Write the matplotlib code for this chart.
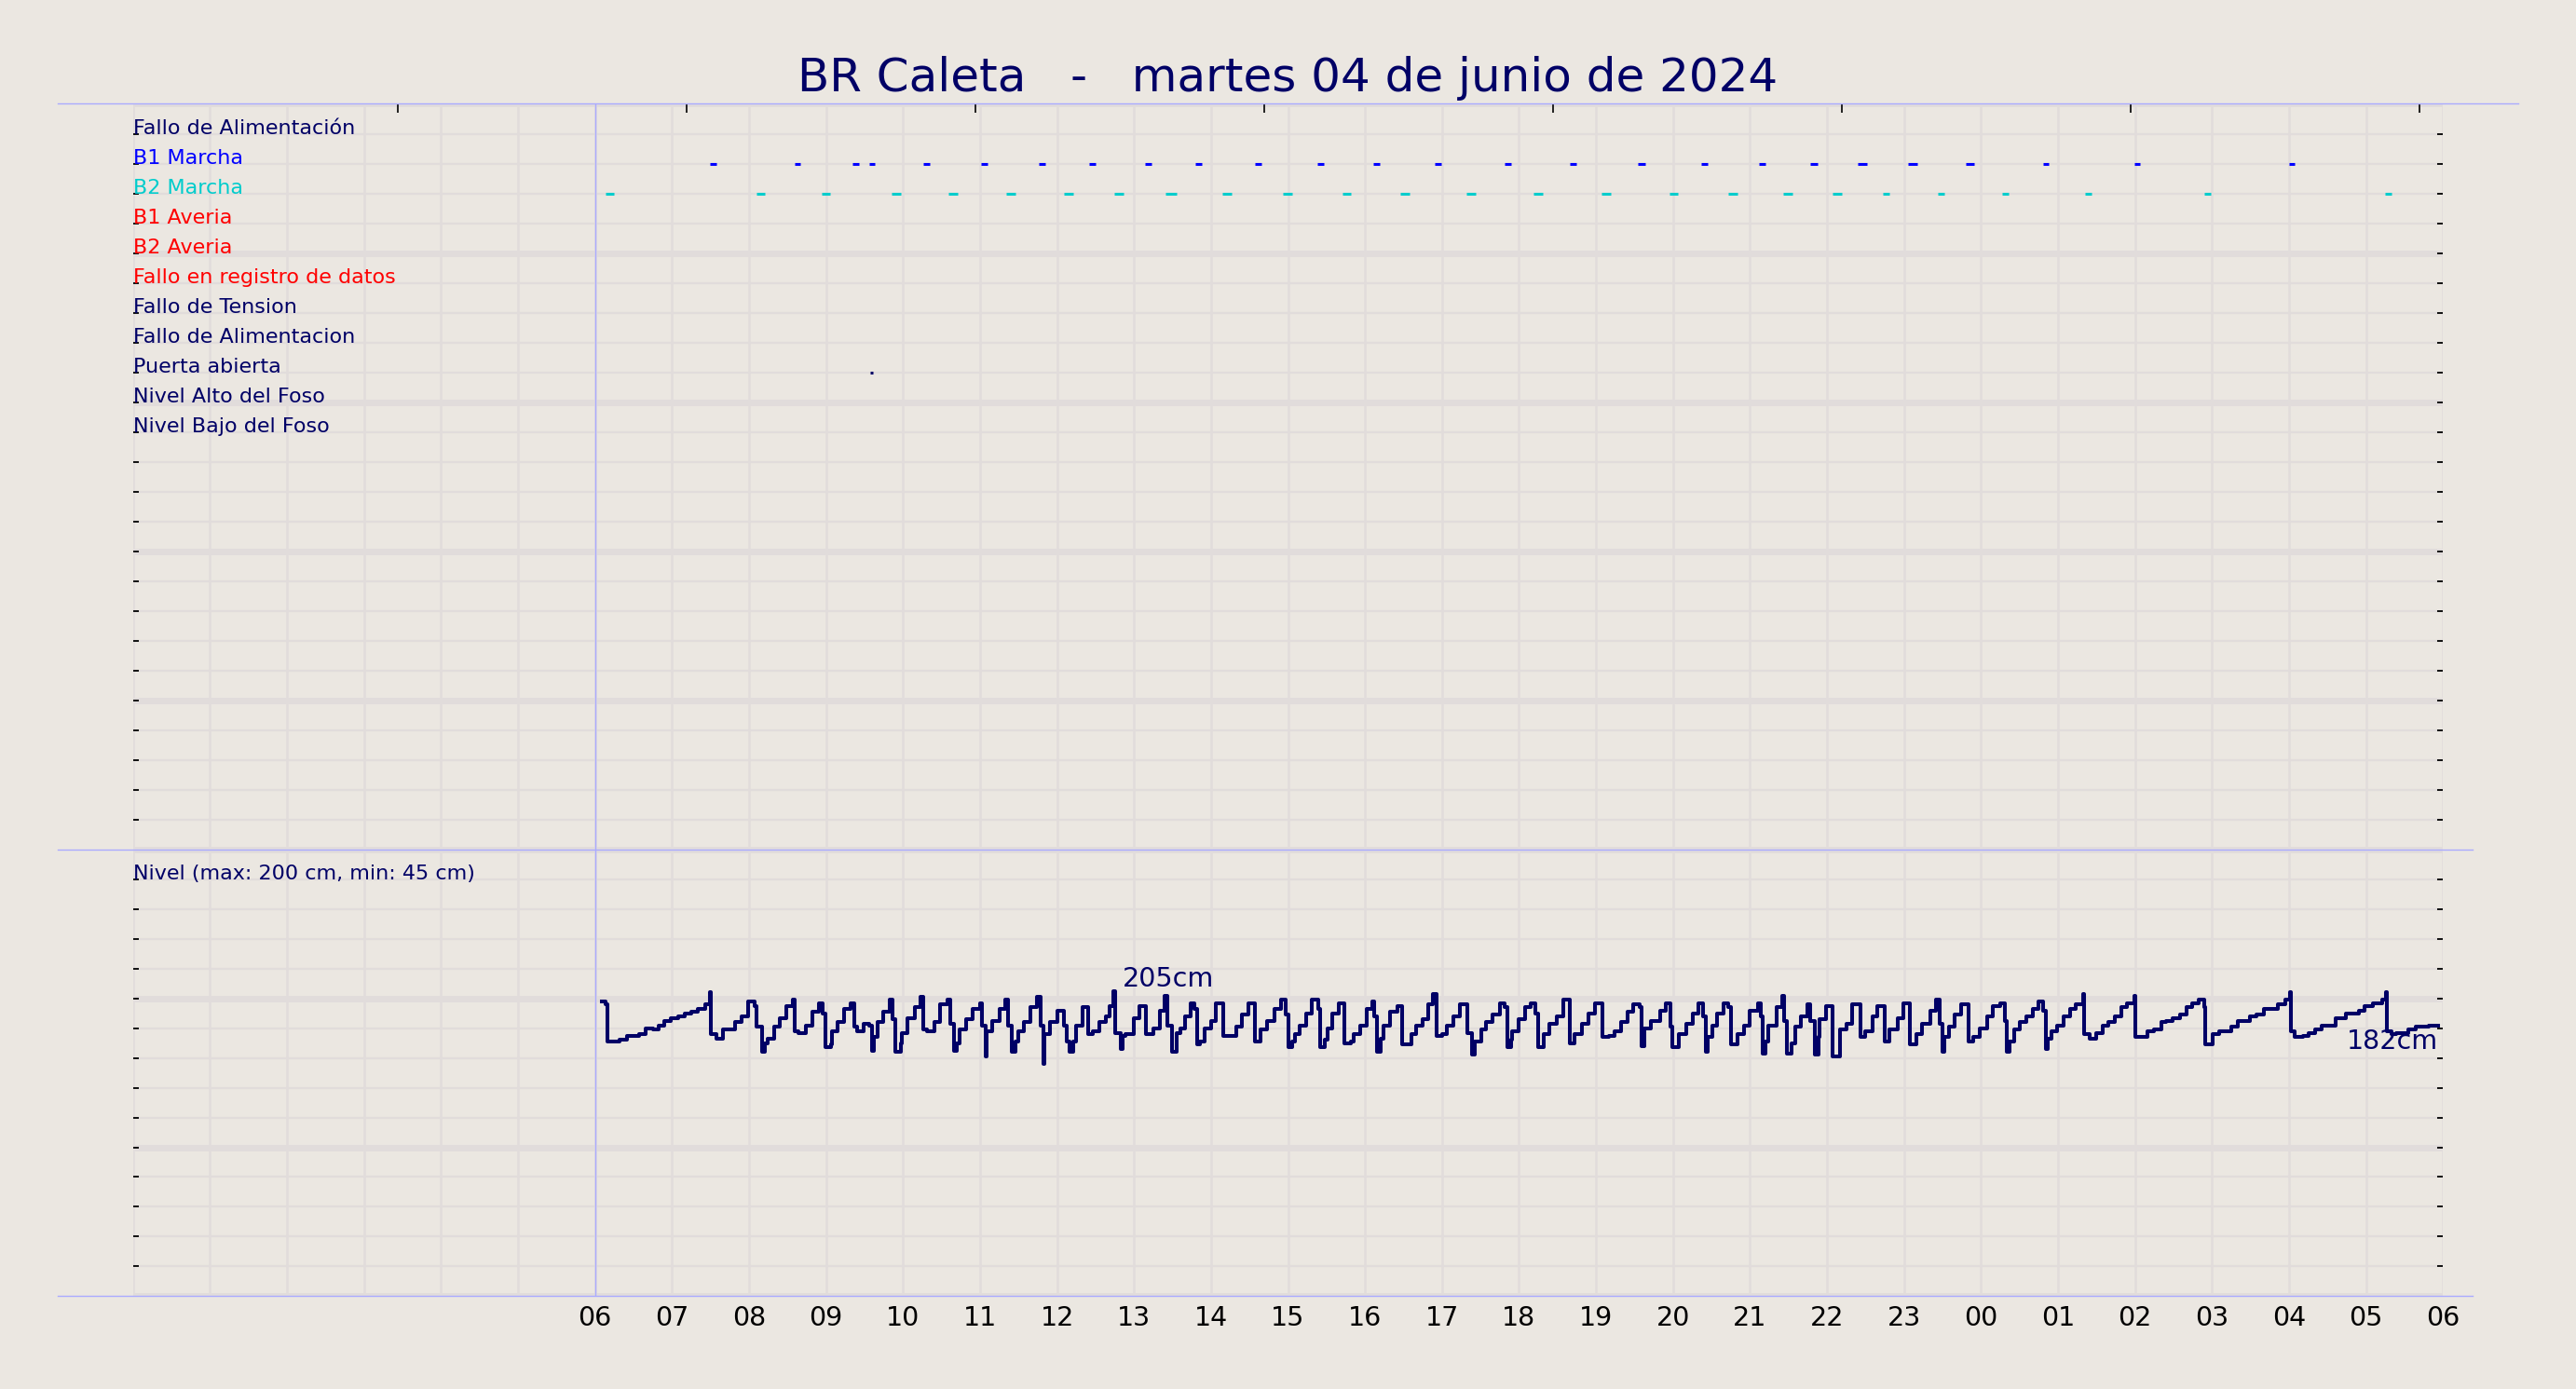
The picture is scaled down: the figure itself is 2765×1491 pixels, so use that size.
import matplotlib
matplotlib.use("Agg")
import matplotlib.pyplot as plt
from matplotlib.lines import Line2D

title = "BR Caleta   -   martes 04 de junio de 2024"

# event rows of the upper panel (top to bottom)
row_labels = ["Fallo de Alimentación", "B1 Marcha", "B2 Marcha", "B1 Averia", "B2 Averia",
              "Fallo en registro de datos", "Fallo de Tension", "Fallo de Alimentacion",
              "Puerta abierta", "Nivel Alto del Foso", "Nivel Bajo del Foso"]
row_colors = ["#000066", "#0000ff", "#00cccc", "#ff0000", "#ff0000",
              "#ff0000", "#000066", "#000066", "#000066", "#000066", "#000066"]

# pump runs: centre (hours from 00:00 of 04/06) and duration in minutes
b1_hours = [7.53, 8.63, 9.39, 9.60, 10.30, 11.06, 11.81, 12.46, 13.19, 13.84, 14.61, 15.42,
            16.15, 16.95, 17.85, 18.70, 19.59, 20.41, 21.16, 21.83, 22.46, 23.11, 23.86,
            24.84, 26.03, 28.04]
b1_mins = [5, 5, 5, 4, 5, 5, 5, 5, 5, 5, 5, 5, 5, 5, 5, 5, 5.5, 5.5, 5.5, 5.5, 7, 7, 6.5,
           4.5, 4.5, 4.5]
b2_hours = [6.19, 8.15, 9.00, 9.91, 10.65, 11.40, 12.15, 12.80, 13.48, 14.21, 14.99, 15.76,
            16.52, 17.38, 18.25, 19.13, 20.01, 20.78, 21.49, 22.13, 22.77, 23.48, 24.32,
            25.39, 26.94, 29.29]
b2_mins = [7, 7, 7, 7, 7, 7, 7, 7, 9, 7, 7, 7, 7, 7, 7, 7, 7, 7, 7, 7, 5, 5, 5, 5, 5, 5]
door_hours = [9.59]
door_mins = [2]

# level readings: minutes after 06:00 and level in cm (step data)
level_min = [
    5.3, 8.2, 9.4, 14.2, 19.1, 24.6, 34.3, 39.6, 45.0, 49.8, 54.2, 59.0, 65.1, 69.9, 74.7,
    80.3, 85.6, 89.7, 90.5, 94.8, 99.7, 109.3, 114.2, 119.5, 124.3, 125.8, 130.1, 132.6,
    134.5, 139.3, 144.2, 149.0, 153.9, 155.3, 158.7, 164.3, 169.1, 174.2, 177.6, 179.5,
    183.6, 184.8, 189.2, 194.0, 198.9, 201.8, 204.2, 209.0, 213.9, 215.8, 217.5, 219.9,
    224.8, 229.6, 232.0, 233.7, 238.1, 239.3, 243.4, 249.0, 253.8, 255.5, 258.7, 264.2,
    269.1, 274.4, 276.8, 279.7, 282.1, 284.1, 288.9, 294.2, 299.8, 301.5, 304.6, 305.4,
    309.5, 315.0, 319.9, 321.6, 324.7, 327.6, 329.6, 334.4, 339.2, 344.1, 347.0, 349.4,
    350.1, 354.7,
    360.3, 365.6, 367.6, 370.0, 372.4, 374.8, 379.7, 384.5, 388.1, 393.0, 397.8, 400.7,
    404.1, 405.5, 409.9, 411.1, 413.5, 419.6, 424.4, 429.3, 435.3, 440.2, 443.8, 446.2,
    449.8, 453.5, 455.9, 460.0, 464.4, 466.8, 469.2, 471.6, 475.2, 480.1, 483.7, 489.8,
    499.4, 504.3, 509.1, 514.0, 518.8, 523.6, 529.7, 534.5, 538.2, 540.6, 543.0, 545.4,
    549.1, 553.9, 558.7, 563.6, 564.8, 568.4, 570.8, 574.5, 579.3, 584.1, 589.0, 591.4,
    596.2, 601.1, 605.4, 607.1, 609.6, 612.0, 614.4, 619.2, 625.3, 628.9, 636.2, 639.8,
    644.6, 649.5, 653.1, 655.5, 660.4, 664.0, 668.8, 673.7, 679.7, 683.4, 685.8, 690.6,
    694.3, 699.1, 705.1, 708.8, 711.2, 713.6,
    714.8, 719.7, 724.5, 729.3, 733.0, 734.7, 739.0, 743.9, 749.2, 754.8, 759.6, 763.2,
    769.3, 774.1, 779.0, 785.0, 789.8, 794.7, 799.5, 804.4, 809.2, 814.0, 815.3, 817.7,
    822.5, 829.8, 834.6, 838.2, 839.5, 844.3, 850.3, 855.2, 860.0, 863.7, 865.3, 867.3,
    870.9, 874.5, 879.4, 883.0, 885.4, 890.3, 895.1, 899.9, 906.0, 908.4, 909.6, 912.1,
    914.5, 920.5, 924.9, 926.6, 929.0, 932.6, 935.0, 939.9, 944.7, 947.1, 950.8, 953.2,
    954.4, 959.2, 964.6, 970.1, 975.0, 979.8, 985.9, 989.5, 995.5, 999.2, 1005.2, 1008.9,
    1014.9, 1019.7, 1024.6, 1029.4, 1034.3, 1040.3, 1045.2, 1047.6, 1050.0, 1051.2,
    1054.8, 1059.7, 1064.5, 1070.6, 1074.2,
    1079.0, 1085.1, 1089.4, 1094.8, 1098.4, 1100.3, 1102.0, 1105.7, 1110.5, 1115.3,
    1120.2, 1125.0, 1128.6, 1130.6, 1132.3, 1134.7, 1139.5, 1144.4, 1149.2, 1154.1,
    1159.9, 1160.6, 1165.0, 1169.8, 1174.6, 1179.5, 1184.3, 1189.1, 1194.0, 1199.8,
    1200.5, 1209.7, 1214.6, 1220.6, 1224.2, 1229.1, 1235.1, 1240.0, 1244.8, 1249.6,
    1254.0, 1255.0, 1260.5, 1265.4, 1275.0, 1279.9, 1289.6, 1294.4, 1300.5, 1311.4,
    1317.4, 1320.5, 1321.8, 1324.7, 1330.7, 1335.6, 1340.4, 1345.2, 1356.1, 1364.6,
    1374.3, 1379.1, 1385.2, 1392.4, 1395.6, 1396.5, 1399.7, 1403.3, 1413.0, 1419.0,
    1428.7, 1436.0]
level_cm = [
    198, 196, 171, 171, 172, 175, 176, 180, 179, 182, 185, 187, 188, 190, 191,
    193, 196, 204, 176, 173, 179, 184, 188, 198, 195, 181, 164, 170,
    173, 181, 187, 195, 199, 178, 177, 182, 191, 197, 190, 167,
    169, 178, 184, 193, 197, 181, 178, 183, 182, 165, 174, 184,
    191, 199, 186, 164, 170, 177, 187, 194, 201, 179, 178, 184,
    196, 199, 183, 165, 170, 179, 186, 193, 197, 182, 161, 178,
    185, 193, 199, 182, 164, 171, 178, 184, 194, 201, 182, 156,
    176, 184,
    192, 182, 171, 164, 171, 182, 194, 176, 178, 184, 188, 195,
    205, 177, 166, 175, 176, 187, 195, 176, 180, 192, 202, 182,
    164, 177, 180, 188, 197, 193, 169, 171, 180, 185, 197, 175,
    181, 189, 197, 171, 179, 185, 193, 199, 189, 167, 171, 176,
    182, 190, 199, 193, 167, 172, 180, 190, 197, 170, 171, 176,
    182, 193, 198, 188, 164, 173, 182, 191, 195, 169, 176, 182,
    186, 196, 203, 175, 176, 182, 188, 196, 177, 162, 171, 179,
    184, 189, 197, 194, 167, 172,
    178, 186, 194, 197, 190, 167, 176, 183, 188, 199, 170, 176,
    183, 190, 197, 174, 175, 178, 184, 191, 196, 194, 168, 180,
    185, 192, 197, 181, 167, 176, 183, 190, 197, 188, 164, 174,
    182, 190, 197, 194, 169, 176, 182, 192, 197, 188, 163, 171,
    182, 194, 202, 185, 163, 170, 181, 188, 196, 185, 162, 174,
    186, 195, 161, 179, 183, 196, 174, 178, 188, 195, 171, 179,
    187, 197, 169, 176, 183, 192, 199, 183, 164, 174,
    181, 189, 196, 171, 174,
    180, 188, 195, 197, 185, 164, 171, 179, 184, 188,
    193, 198, 192, 166, 173, 178, 182, 188, 193, 196,
    203, 176, 173, 177, 182, 184, 188, 194, 197, 202,
    174, 178, 179, 184, 185, 187, 189, 194, 197, 199,
    194, 169, 176, 178, 181, 185, 188, 189, 193, 196,
    199, 204, 178, 174, 175, 177, 179, 182, 187, 190,
    192, 195, 197, 199, 204, 178, 176, 177, 179, 181,
    182, 182]

hour_labels = ["%02d" % (h % 24) for h in range(6, 31)]

bg = "#ebe7e1"
grid = "#e1dcdb"
lav = "#aaaaff"
navy = "#000066"

fig = plt.figure(figsize=(27.65, 14.91), dpi=100, facecolor=bg)
L, W = 0.05165, 0.89671
ax1 = fig.add_axes([L, 0.38833, W, 0.53689])
ax2 = fig.add_axes([L, 0.06687, W, 0.32146])

for ax in (ax1, ax2):
    ax.set_facecolor(bg)
    for s in ax.spines.values():
        s.set_visible(False)
    ax.set_xlim(0, 30)
    for h in range(31):
        ax.axvline(h, color=grid, lw=1.8, zorder=0)
    ax.axvline(6, color=lav, lw=1.0, zorder=1)
    ax.tick_params(axis="y", direction="in", length=4, width=1.3, color="black",
                   left=True, right=True, labelleft=False)

# upper panel: events
ax1.set_ylim(0, 25)
for y in range(26):
    ax1.axhline(y, color=grid, lw=5 if y % 5 == 0 else 1.7, zorder=0)
ax1.set_yticks(range(1, 25))
ax1.set_xticks([3.44, 7.19, 10.94, 14.69, 18.44, 22.19, 25.94, 29.69])
ax1.tick_params(axis="x", bottom=False, top=True, labelbottom=False, direction="in",
                length=7, width=1.2, color="black")

for i, (lab, col) in enumerate(zip(row_labels, row_colors)):
    ax1.text(0, 24 - i, lab, color=col, fontsize=16, ha="left", va="baseline")

for hours, mins, row, col in [(b1_hours, b1_mins, 1, "#0000ff"),
                              (b2_hours, b2_mins, 2, "#00cccc"),
                              (door_hours, door_mins, 8, navy)]:
    for c, d in zip(hours, mins):
        half = d / 120.0
        ax1.plot([c - half, c + half], [24 - row, 24 - row], color=col, lw=2.2,
                 solid_capstyle="butt", zorder=3)

# lower panel: level
ax2.set_ylim(0, 300)
for y in range(0, 301, 20):
    ax2.axhline(y, color=grid, lw=5 if y % 100 == 0 else 1.7, zorder=0)
ax2.set_yticks(range(20, 300, 20))
ax2.set_xticks(range(6, 31))
ax2.set_xticklabels(hour_labels)
ax2.tick_params(axis="x", length=0, pad=7, labelsize=20.5, labelcolor="black")

lh = [6 + m / 60.0 for m in level_min]
ax2.step(lh, level_cm, where="post", color=navy, lw=2.9, zorder=4)

ax2.text(0, 280, "Nivel (max: 200 cm, min: 45 cm)", color=navy, fontsize=16,
         ha="left", va="baseline")
imax = level_cm.index(max(level_cm))
ax2.text(lh[imax] + 0.11, level_cm[imax] + 3, "%dcm" % level_cm[imax], color=navy,
         fontsize=20.5, ha="left", va="baseline")
ax2.text(lh[-1], level_cm[-1] - 2, "%dcm" % level_cm[-1], color=navy, fontsize=20.5,
         ha="right", va="top", zorder=3)

# frame lines
fig.add_artist(Line2D([0.0224, 0.9776], [0.92522, 0.92522], color=lav, lw=1.0))
fig.add_artist(Line2D([0.0224, 0.9599], [0.38833, 0.38833], color=lav, lw=1.0))
fig.add_artist(Line2D([0.0224, 0.9599], [0.06687, 0.06687], color=lav, lw=1.0))

fig.text(0.5, 0.93407, title, color=navy, fontsize=36, ha="center", va="baseline")

fig.savefig("out.png", dpi=100, facecolor=bg)
